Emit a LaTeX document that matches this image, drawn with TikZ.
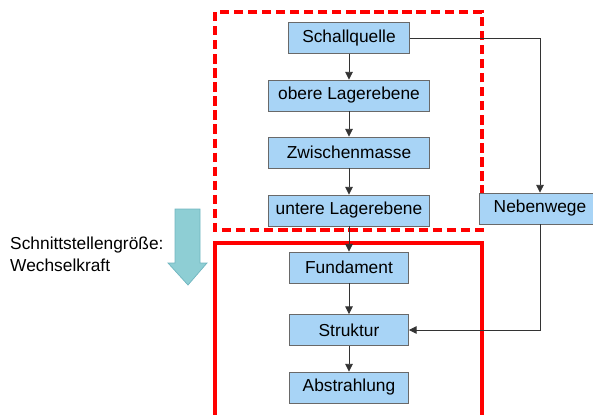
\documentclass[tikz,border=0pt]{standalone}
\usepackage{fontspec}
\setmainfont{Liberation Sans}
\usetikzlibrary{arrows.meta}

\definecolor{boxblue}{RGB}{168,212,246}
\definecolor{boxline}{RGB}{105,105,105}
\definecolor{pfeil}{RGB}{142,206,212}
\definecolor{pfeilrand}{RGB}{112,182,192}

\tikzset{
  block/.style={draw=boxline, fill=boxblue, line width=0.8pt, minimum height=0.93cm,
    inner sep=0pt, font=\fontsize{14.8}{17}\selectfont},
  fluss/.style={draw=black!80, line width=0.7pt, -{Triangle[length=6.5pt,width=6.5pt]}},
  rahmen/.style={draw=red, line width=2.6pt}
}

\begin{document}
\begin{tikzpicture}[x=0.03cm, y=-0.03cm]
    \useasboundingbox (0,0) rectangle (593,414);

    % Rahmen
    \draw[rahmen, dash pattern=on 8pt off 4pt] (215,12) rectangle (482,230);
    \draw[rahmen] (215,416) -- (215,243) -- (482,243) -- (482,416);

    % Bloecke
    \node[block, minimum width=3.63cm] (schall) at (349,38) {Schallquelle};
    \node[block, minimum width=4.83cm] (obere) at (349,95.5) {obere Lagerebene};
    \node[block, minimum width=4.83cm] (zwischen) at (349,152.5) {Zwischenmasse};
    \node[block, minimum width=4.83cm] (untere) at (349,210.5) {untere Lagerebene};
    \node[block, minimum width=3.66cm] (neben) at (540,208.5) {Nebenwege};
    \node[block, minimum width=3.57cm] (fund) at (349,267.5) {Fundament};
    \node[block, minimum width=3.57cm] (struktur) at (349,330) {Struktur};
    \node[block, minimum width=3.57cm] (abstr) at (349,387.5) {Abstrahlung};

    % Verbindungen
    \draw[fluss] (schall) -- (obere);
    \draw[fluss] (obere) -- (zwischen);
    \draw[fluss] (zwischen) -- (untere);
    \draw[fluss] (untere) -- (fund);
    \draw[fluss] (fund) -- (struktur);
    \draw[fluss] (struktur) -- (abstr);
    \draw[fluss] (schall.east) -| (neben.north);
    \draw[fluss] (neben.south) |- (struktur.east);

    % Schnittstelle
    \draw[draw=pfeilrand, fill=pfeil, line width=0.6pt]
      (175,209) -- (200,209) -- (200,263) -- (207,263) -- (188,285)
      -- (168,263) -- (175,263) -- cycle;
    \node[anchor=west, align=left, inner sep=0pt,
      font=\fontsize{14.8}{18.7}\selectfont] (groesse) at (10,254)
      {Schnittstellengröße:\\Wechselkraft};
\end{tikzpicture}
\end{document}
